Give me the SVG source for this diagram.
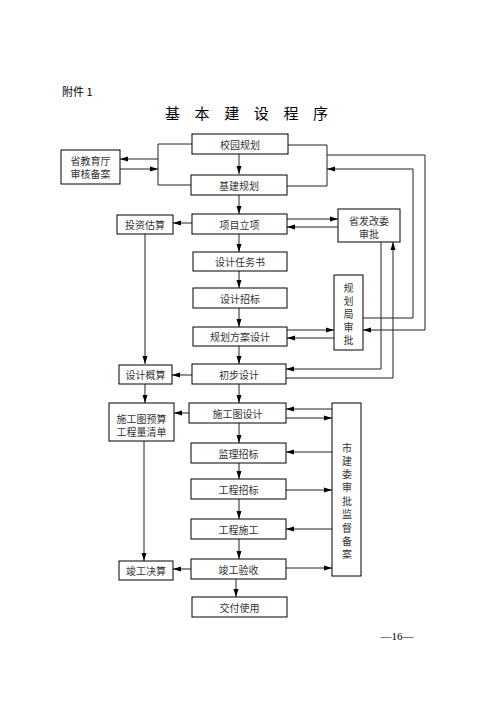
<svg xmlns="http://www.w3.org/2000/svg" width="496" height="702" viewBox="0 0 496 702">
<style>
.b{fill:#fff;stroke:#000;stroke-width:1}
.t{font-family:"Noto Sans CJK SC","Noto Sans",sans-serif;font-size:10px;fill:#333;text-anchor:middle;dominant-baseline:central}
.c{fill:none;stroke:#222;stroke-width:1}
</style>
<defs>
<marker id="a" viewBox="0 0 8 6" refX="8" refY="3" markerWidth="8" markerHeight="6" markerUnits="userSpaceOnUse" orient="auto">
<path d="M0,0.5 L8,3 L0,5.5 Z" fill="#000"/>
</marker>
</defs>
<rect width="496" height="702" fill="#fff"/>
<text x="62" y="96" style="font-family:'Noto Sans CJK SC',sans-serif;font-size:11px;fill:#000">附件 1</text>
<text x="165" y="119" style="font-family:'Noto Sans CJK SC',sans-serif;font-size:15px;fill:#000;letter-spacing:14.6px">基本建设程序</text>
<text x="397" y="636" style="font-family:'Liberation Serif','Noto Sans CJK SC',serif;font-size:11px;fill:#000;text-anchor:middle;dominant-baseline:central">—16—</text>

<g id="connectors">
<line class="c" x1="239" y1="154" x2="239" y2="174" marker-end="url(#a)"/>
<line class="c" x1="239" y1="194" x2="239" y2="214" marker-end="url(#a)"/>
<polyline class="c" points="192,144 158,144 158,185 191,185"/>
<line class="c" x1="158" y1="159" x2="120" y2="159" marker-end="url(#a)"/>
<line class="c" x1="120" y1="169" x2="158" y2="169" marker-end="url(#a)"/>
<polyline class="c" points="288,145 327,145 327,186 287,186"/>
<polyline class="c" points="327,155 425,155 425,330 363,330" marker-end="url(#a)"/>
<polyline class="c" points="363,318 413,318 413,169 327,169" marker-end="url(#a)"/>
<line class="c" x1="287" y1="219" x2="338" y2="219" marker-end="url(#a)"/>
<line class="c" x1="338" y1="227" x2="287" y2="227" marker-end="url(#a)"/>
<line class="c" x1="192" y1="223" x2="173" y2="223" marker-end="url(#a)"/>
<line class="c" x1="239" y1="234" x2="239" y2="252" marker-end="url(#a)"/>
<line class="c" x1="239" y1="271" x2="239" y2="288" marker-end="url(#a)"/>
<line class="c" x1="239" y1="308" x2="239" y2="327" marker-end="url(#a)"/>
<line class="c" x1="287" y1="330" x2="334" y2="330" marker-end="url(#a)"/>
<line class="c" x1="334" y1="338" x2="287" y2="338" marker-end="url(#a)"/>
<line class="c" x1="239" y1="346" x2="239" y2="364" marker-end="url(#a)"/>
<polyline class="c" points="381,242 381,369 286,369" marker-end="url(#a)"/>
<polyline class="c" points="286,378 393,378 393,242" marker-end="url(#a)"/>
<line class="c" x1="192" y1="375" x2="172" y2="375" marker-end="url(#a)"/>
<line class="c" x1="145" y1="234" x2="145" y2="364" marker-end="url(#a)"/>
<line class="c" x1="239" y1="384" x2="239" y2="403" marker-end="url(#a)"/>
<line class="c" x1="145" y1="384" x2="145" y2="403" marker-end="url(#a)"/>
<line class="c" x1="189" y1="413" x2="174" y2="413" marker-end="url(#a)"/>
<line class="c" x1="332" y1="409" x2="286" y2="409" marker-end="url(#a)"/>
<line class="c" x1="286" y1="418" x2="332" y2="418" marker-end="url(#a)"/>
<line class="c" x1="239" y1="423" x2="239" y2="443" marker-end="url(#a)"/>
<line class="c" x1="332" y1="452" x2="286" y2="452" marker-end="url(#a)"/>
<line class="c" x1="239" y1="463" x2="239" y2="479" marker-end="url(#a)"/>
<line class="c" x1="286" y1="490" x2="332" y2="490" marker-end="url(#a)"/>
<line class="c" x1="239" y1="499" x2="239" y2="519" marker-end="url(#a)"/>
<line class="c" x1="332" y1="529" x2="286" y2="529" marker-end="url(#a)"/>
<line class="c" x1="239" y1="539" x2="239" y2="559" marker-end="url(#a)"/>
<line class="c" x1="286" y1="568" x2="332" y2="568" marker-end="url(#a)"/>
<line class="c" x1="144" y1="441" x2="144" y2="561" marker-end="url(#a)"/>
<line class="c" x1="191" y1="569" x2="173" y2="569" marker-end="url(#a)"/>
<line class="c" x1="236" y1="579" x2="236" y2="597" marker-end="url(#a)"/>
</g>

<g id="n-xygh"><rect class="b" x="192" y="134" width="96" height="20"/><text class="t" x="240" y="144">校园规划</text></g>
<g id="n-sjyt"><rect class="b" x="61" y="150" width="59" height="34"/><text class="t" x="90.5" y="160">省教育厅</text><text class="t" x="90.5" y="173">审核备案</text></g>
<g id="n-jjgh"><rect class="b" x="191" y="175" width="96" height="20"/><text class="t" x="239" y="185">基建规划</text></g>
<g id="n-xmlx"><rect class="b" x="192" y="214" width="95" height="20"/><text class="t" x="239.5" y="224">项目立项</text></g>
<g id="n-tzgs"><rect class="b" x="117" y="215" width="56" height="19"/><text class="t" x="145" y="224.5">投资估算</text></g>
<g id="n-sfgw"><rect class="b" x="338" y="209" width="62" height="33"/><text class="t" x="369" y="220">省发改委</text><text class="t" x="369" y="233">审批</text></g>
<g id="n-sjrws"><rect class="b" x="193" y="252" width="94" height="19"/><text class="t" x="240" y="261.5">设计任务书</text></g>
<g id="n-sjzb"><rect class="b" x="193" y="288" width="94" height="20"/><text class="t" x="240" y="298">设计招标</text></g>
<g id="n-ghfa"><rect class="b" x="193" y="327" width="94" height="19"/><text class="t" x="240" y="336.5">规划方案设计</text></g>
<g id="n-ghj"><rect class="b" x="334" y="275" width="29" height="75"/><text class="t" x="348.5" y="287">规</text><text class="t" x="348.5" y="300">划</text><text class="t" x="348.5" y="313">局</text><text class="t" x="348.5" y="326">审</text><text class="t" x="348.5" y="339">批</text></g>
<g id="n-cbsj"><rect class="b" x="192" y="364" width="94" height="20"/><text class="t" x="239" y="374">初步设计</text></g>
<g id="n-sjgs"><rect class="b" x="119" y="365" width="53" height="19"/><text class="t" x="145.5" y="374.5">设计概算</text></g>
<g id="n-sgtsj"><rect class="b" x="189" y="403" width="97" height="20"/><text class="t" x="237.5" y="413">施工图设计</text></g>
<g id="n-sgtys"><rect class="b" x="109" y="403" width="65" height="38"/><text class="t" x="141.5" y="418">施工图预算</text><text class="t" x="141.5" y="431">工程量清单</text></g>
<g id="n-sjw"><rect class="b" x="332" y="403" width="29" height="173"/><text class="t" x="347" y="447">市</text><text class="t" x="347" y="460">建</text><text class="t" x="347" y="473">委</text><text class="t" x="347" y="486">审</text><text class="t" x="347" y="500">批</text><text class="t" x="347" y="513">监</text><text class="t" x="347" y="527">督</text><text class="t" x="347" y="540">备</text><text class="t" x="347" y="553">案</text></g>
<g id="n-jlzb"><rect class="b" x="191" y="443" width="95" height="20"/><text class="t" x="238.5" y="453">监理招标</text></g>
<g id="n-gczb"><rect class="b" x="191" y="479" width="95" height="20"/><text class="t" x="238.5" y="489">工程招标</text></g>
<g id="n-gcsg"><rect class="b" x="191" y="519" width="95" height="20"/><text class="t" x="238.5" y="529">工程施工</text></g>
<g id="n-jgys"><rect class="b" x="191" y="559" width="95" height="20"/><text class="t" x="238.5" y="569">竣工验收</text></g>
<g id="n-jgjs"><rect class="b" x="119" y="561" width="54" height="19"/><text class="t" x="146" y="570.5">竣工决算</text></g>
<g id="n-jfsy"><rect class="b" x="192" y="597" width="95" height="20"/><text class="t" x="239.5" y="607">交付使用</text></g>
</svg>
